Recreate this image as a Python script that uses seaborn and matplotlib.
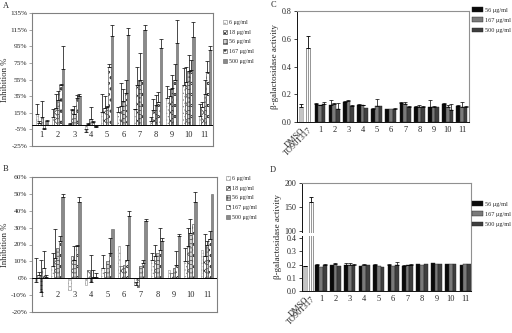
import numpy as np
import pandas as pd
import matplotlib
matplotlib.use('Agg')
import matplotlib.pyplot as plt
from matplotlib.patches import Rectangle
from matplotlib.transforms import Bbox, TransformedBbox
import seaborn as sns

# ---- data ----
compounds = [str(i) for i in range(1, 12)]
conc_ab = ['6 μg/ml', '18 μg/ml', '56 μg/ml', '167 μg/ml', '500 μg/ml']
conc_cd = ['56 μg/ml', '167 μg/ml', '500 μg/ml']
controls = ['DMSO', 'TO901317']

# panel A, inhibition % (rows = compound, cols = concentration)
a_mean = [[13, 3, 10, -5, 5], [10, 21, 30, 48, 68], [2, 18, 14, 33, 35],
          [-8, 2, 7, 4, -2], [16, 21, 22, 70, 107], [16, 23, 29, 39, 109],
          [19, 48, 54, 54, 115], [5, 18, 24, 28, 93], [33, 35, 45, 55, 99],
          [48, 52, 65, 67, 106], [11, 22, 38, 64, 91]]
a_err = [[13, 2, 19, 2, 1], [9, 16, 11, 2, 27], [1, 1, 9, 3, 2],
         [3, 1, 15, 1, 1], [21, 14, 1, 4, 13], [6, 28, 14, 16, 8],
         [1, 22, 33, 0, 6], [5, 13, 12, 12, 11], [14, 8, 15, 19, 28],
         [21, 18, 20, 11, 18], [14, 6, 17, 13, 4]]

# panel B, inhibition %
b_mean = [[-2, 2, -8, 6, 1], [7, 12, 18, 22, 48], [-7, 13, 11, 19, 45],
          [-4, 5, -2, 1, 1], [6, 4, 10, 15, 29], [19, 7, 8, 11, 37],
          [-4, -5, 7, 9, 34], [11, 13, 15, 17, 22], [5, 3, 6, 8, 25],
          [10, 19, 27, 32, 45], [17, 13, 20, 23, 50]]
b_err = [[14, 2, 19, 10, 1], [8, 17, 0, 3, 2], [0, 0, 8, 1, 3],
         [0, 0, 16, 4, 2], [8, 0, 0, 9, 0], [0, 0, 0, 9, 3],
         [1.5, 0, 0, 2, 1], [4, 7, 0, 13, 2], [0, 0, 0, 8, 1],
         [8, 11, 8, 0, 6], [0, 13, 2, 5, 0]]

# panel C, beta-galactosidase activity
c_ctrl = [0.11, 0.53]
c_ctrl_err = [0.02, 0.09]
c_mean = [[0.13, 0.12, 0.13], [0.12, 0.13, 0.095], [0.145, 0.15, 0.115],
          [0.12, 0.12, 0.10], [0.095, 0.115, 0.115], [0.095, 0.095, 0.095],
          [0.135, 0.13, 0.11], [0.105, 0.11, 0.105], [0.105, 0.105, 0.11],
          [0.13, 0.11, 0.09], [0.115, 0.105, 0.11]]
c_err = [[0.01, 0.005, 0.015], [0.035, 0.005, 0.04], [0.005, 0.005, 0.005],
         [0.01, 0.005, 0], [0.005, 0.05, 0], [0, 0, 0.005],
         [0.01, 0.015, 0.005], [0.01, 0.01, 0.01], [0.05, 0.01, 0],
         [0.01, 0.01, 0.04], [0.005, 0.04, 0.005]]

# panel D, beta-galactosidase activity (broken axis)
d_ctrl = [0.19, 160]
d_ctrl_err = [0, 10]
d_mean = [[0.20, 0.185, 0.20], [0.195, 0.205, 0.19], [0.20, 0.20, 0.20],
          [0.19, 0.20, 0.195], [0.20, 0.19, 0.185], [0.195, 0.19, 0.20],
          [0.19, 0.195, 0.20], [0.205, 0.20, 0.205], [0.21, 0.205, 0.205],
          [0.205, 0.205, 0.205], [0.20, 0.205, 0.205]]
d_err = [[0.005, 0, 0.005], [0, 0.005, 0], [0.01, 0.01, 0.005],
         [0, 0.005, 0], [0.005, 0, 0], [0.01, 0, 0.02],
         [0.01, 0.005, 0.005], [0, 0, 0], [0, 0, 0], [0, 0, 0], [0, 0, 0]]

# ---- styles ----
ab_face = ['white', 'white', '#d0d0d0', 'white', '#8a8a8a']
ab_edge = ['#8c8c8c', '#303030', '#404040', '#404040', '#606060']
ab_hatch = ['.....', 'xxxx', '++++', 'ooo', None]
cd_colors = ['#0a0a0a', '#7a7a7a', '#3e3e3e']

sns.set_style('ticks')
plt.rcParams['font.family'] = ['Liberation Serif', 'DejaVu Serif']
plt.rcParams['hatch.linewidth'] = 0.5

fig = plt.figure(figsize=(5.12, 3.33), dpi=100)


def px_axes(l, t, r, b):
    return fig.add_axes([l / 512, 1 - b / 333, (r - l) / 512, (b - t) / 333])


def long_df(means, labels):
    rows = []
    for comp, vals in zip(compounds, means):
        for lab, v in zip(labels, vals):
            rows.append({'compound': comp, 'conc': lab, 'value': v})
    return pd.DataFrame(rows)


def add_errors(ax, containers, means, errs):
    for j, cont in enumerate(containers):
        xs, ys, es = [], [], []
        for i, p in enumerate(cont.patches):
            if errs[i][j] > 0:
                xs.append(p.get_x() + p.get_width() / 2)
                ys.append(means[i][j])
                es.append(errs[i][j])
        if xs:
            ax.errorbar(xs, ys, yerr=[np.zeros(len(es)), es], fmt='none',
                        ecolor='black', elinewidth=0.5, capsize=1.2,
                        capthick=0.5, zorder=5)


def clip_left(texts):
    clip = TransformedBbox(Bbox([[0, 0], [260 / 512, 1]]), fig.transFigure)
    for t in texts:
        t.set_clip_box(clip)
        t.set_clip_on(True)


def inhibition_panel(rect, means, errs, ylim, yticks, label_y, xlim, leg_xy):
    ax = px_axes(*rect)
    df = long_df(means, conc_ab)
    sns.barplot(data=df, x='compound', y='value', hue='conc', order=compounds,
                hue_order=conc_ab, palette=dict(zip(conc_ab, ab_face)),
                errorbar=None, width=0.75, saturation=1, legend=False, ax=ax)
    conts = list(ax.containers)
    for j, cont in enumerate(conts):
        for p in cont.patches:
            p.set_edgecolor(ab_edge[j])
            p.set_linewidth(0.4)
            if ab_hatch[j]:
                p.set_hatch(ab_hatch[j])
    add_errors(ax, conts, means, errs)
    ax.axhline(0, color='black', lw=0.7, zorder=4)
    ax.set_xlim(*xlim)
    ax.set_ylim(*ylim)
    ax.set_yticks(yticks, [f'{v}%' for v in yticks])
    ax.set_xticks([])
    ax.set_xlabel('')
    ax.set_ylabel('Inhibition %', fontsize=6.3)
    mid = 1 - (rect[1] + rect[3]) / 2 / 333
    ax.yaxis.set_label_coords(9 / 512, mid, transform=fig.transFigure)
    ax.tick_params(axis='y', labelsize=5.3, length=2, width=0.5, pad=1.5,
                   color='#808080')
    for i, c in enumerate(compounds):
        ax.text(i, label_y, c, ha='center', va='center', fontsize=6)
    for s in ax.spines.values():
        s.set_color('#808080')
        s.set_linewidth(0.8)
    leg = ax.legend(conts, conc_ab, loc='upper left',
                    bbox_to_anchor=(leg_xy[0] / 512, 1 - leg_xy[1] / 333),
                    bbox_transform=fig.transFigure, frameon=False,
                    fontsize=4.3, handlelength=0.7, handleheight=0.7,
                    handletextpad=0.3, labelspacing=0.75, borderpad=0,
                    borderaxespad=0)
    clip_left(leg.get_texts())
    return ax


def activity_panel(ax, means, errs, ctrl, ctrl_err, ctrl_pos, xlim, leg_xy):
    df = long_df(means, conc_cd)
    sns.barplot(data=df, x='compound', y='value', hue='conc', order=compounds,
                hue_order=conc_cd, palette=dict(zip(conc_cd, cd_colors)),
                errorbar=None, width=0.77, saturation=1, legend=False, ax=ax)
    conts = list(ax.containers)
    for cont in conts:
        for p in cont.patches:
            p.set_edgecolor('#222222')
            p.set_linewidth(0.3)
    add_errors(ax, conts, means, errs)
    ax.bar(ctrl_pos[0], ctrl[0], width=0.28, color='#c4c4c4',
           edgecolor='#9a9a9a', linewidth=0.4)
    ax.bar(ctrl_pos[1], ctrl[1], width=0.28, color='white',
           edgecolor='#6a6a6a', linewidth=0.5, hatch='|||||')
    ax.errorbar(ctrl_pos, ctrl, yerr=[np.zeros(2), ctrl_err], fmt='none',
                ecolor='black', elinewidth=0.6, capsize=1.5, capthick=0.6,
                zorder=5)
    ax.set_xlim(*xlim)
    ax.set_xticks(list(ctrl_pos) + list(range(len(compounds))),
                  controls + compounds)
    for lab in ax.get_xticklabels()[:2]:
        lab.set_rotation(45)
        lab.set_ha('right')
        lab.set_rotation_mode('anchor')
    ax.set_xlabel('')
    ax.set_ylabel('β-galactosidase activity', fontsize=6.5, labelpad=2)
    ax.tick_params(axis='x', labelsize=6, length=0, pad=3)
    ax.tick_params(axis='y', labelsize=5.8, length=2.5, width=0.6, pad=1.5)
    for s in ['left', 'bottom']:
        ax.spines[s].set_color('#111111')
        ax.spines[s].set_linewidth(0.7)
    for s in ['top', 'right']:
        ax.spines[s].set_visible(True)
        ax.spines[s].set_color('#909090')
        ax.spines[s].set_linewidth(0.8)
    ax.legend(conts, conc_cd, loc='upper left',
              bbox_to_anchor=(leg_xy[0] / 512, 1 - leg_xy[1] / 333),
              bbox_transform=fig.transFigure, frameon=False, fontsize=4.5,
              handlelength=1.7, handleheight=0.8, handletextpad=0.4,
              labelspacing=0.75, borderpad=0, borderaxespad=0)


# ---- A ----
inhibition_panel((32, 13, 213, 146), a_mean, a_err, (-25, 135),
                 list(range(-25, 136, 20)), -12, (-0.6, 10.5), (223, 20))
# ---- B ----
inhibition_panel((32, 177, 217, 312), b_mean, b_err, (-20, 60),
                 list(range(-20, 61, 10)), -10, (-0.55, 10.6), (226, 176))

# ---- C ----
axC = px_axes(297, 11, 469, 122)
activity_panel(axC, c_mean, c_err, c_ctrl, c_ctrl_err, [-1.34, -0.85],
               (-1.62, 10.5), (472, 7))
axC.set_ylim(0, 0.8)
c_ticks = np.arange(0, 0.81, 0.2)
axC.set_yticks(c_ticks, [f'{v:.1f}' for v in c_ticks])

# ---- D (broken axis via piecewise scale) ----
brk = [0.0, 0.4, 100.0, 200.0]
brk_pos = [0.0, 0.49, 0.556, 1.0]


def d_fwd(y):
    y = np.asarray(y, dtype=float)
    lo = y / brk[1] * brk_pos[1]
    mid = brk_pos[1] + (y - brk[1]) / (brk[2] - brk[1]) * (brk_pos[2] - brk_pos[1])
    hi = brk_pos[2] + (y - brk[2]) / (brk[3] - brk[2]) * (brk_pos[3] - brk_pos[2])
    return np.where(y < brk[1], lo, np.where(y < brk[2], mid, hi))


def d_inv(u):
    u = np.asarray(u, dtype=float)
    lo = u / brk_pos[1] * brk[1]
    mid = brk[1] + (u - brk_pos[1]) / (brk_pos[2] - brk_pos[1]) * (brk[2] - brk[1])
    hi = brk[2] + (u - brk_pos[2]) / (brk_pos[3] - brk_pos[2]) * (brk[3] - brk[2])
    return np.where(u < brk_pos[1], lo, np.where(u < brk_pos[2], mid, hi))


axD = px_axes(302, 183, 471, 291)
activity_panel(axD, d_mean, d_err, d_ctrl, d_ctrl_err, [-1.1, -0.7],
               (-1.32, 10.4), (472, 201))
axD.set_yscale('function', functions=(d_fwd, d_inv))
axD.set_ylim(0, 200)
d_ticks = [0.0, 0.1, 0.2, 0.3, 0.4, 100, 150, 200]
axD.set_yticks(d_ticks, ['0.0', '0.1', '0.2', '0.3', '0.4', '100', '150', '200'])
axD.minorticks_off()
axD.add_patch(Rectangle((-0.03, 0.507), 0.2, 0.03, transform=axD.transAxes,
                        facecolor='white', edgecolor='none', clip_on=False,
                        zorder=10))

# panel letters
fig.text(3 / 512, 1 - 2 / 333, 'A', va='top', ha='left', fontsize=6)
fig.text(3 / 512, 1 - 165 / 333, 'B', va='top', ha='left', fontsize=6)
fig.text(271 / 512, 1 - 1 / 333, 'C', va='top', ha='left', fontsize=6)
fig.text(270 / 512, 1 - 166 / 333, 'D', va='top', ha='left', fontsize=6)

fig.savefig('out.png', dpi=100)
